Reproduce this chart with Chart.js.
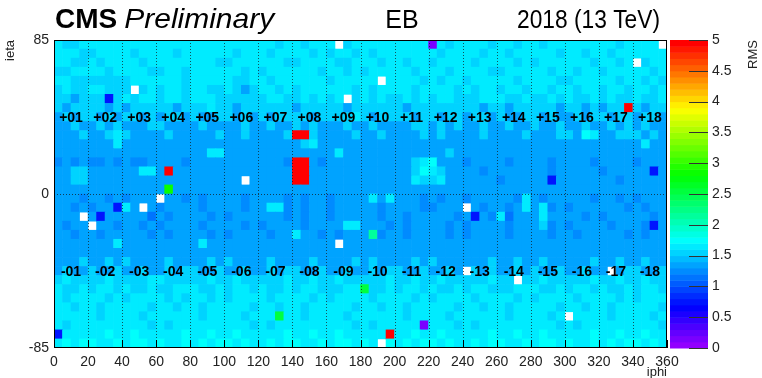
<!DOCTYPE html>
<html>
<head>
<meta charset="utf-8">
<script src="https://cdn.jsdelivr.net/npm/chart.js@4.4.0/dist/chart.umd.min.js"></script>
<style>
  html, body { margin: 0; padding: 0; background: #fff; }
  #wrap { width: 762px; height: 378px; }
</style>
</head>
<body>
<div id="wrap"><canvas id="eb-chart" width="762" height="378"></canvas></div>
<script>
// binning of the barrel map
const iphiMin = 0;
const iphiMax = 360;
const iphiStep = 5;
const ietaMin = -85;
const ietaMax = 85;
const ietaStep = 5;
const rmsMax = 5;

const xTicks = [0, 20, 40, 60, 80, 100, 120, 140, 160, 180, 200, 220, 240, 260, 280, 300, 320, 340, 360];
const yTicks = [-85, 0, 85];
const zTicks = [0, 0.5, 1, 1.5, 2, 2.5, 3, 3.5, 4, 4.5, 5];

const smPlus = ["+01", "+02", "+03", "+04", "+05", "+06", "+07", "+08", "+09", "+10", "+11", "+12", "+13", "+14", "+15", "+16", "+17", "+18"];
const smMinus = ["-01", "-02", "-03", "-04", "-05", "-06", "-07", "-08", "-09", "-10", "-11", "-12", "-13", "-14", "-15", "-16", "-17", "-18"];
const smLabelEta = [42, -43];

// one character per 5x5 cell, "0" = empty bin
const rmsLevels = { "1": 1.1, "2": 1.2, "3": 1.3, "4": 1.4, "5": 1.5, "6": 1.6, "7": 1.7, "B": 0.75, "P": 0.15, "q": 2.1, "g": 2.55, "G": 2.85, "R": 5.0 };

// rows from ieta 85 (top) down to -85, 4 cells per supermodule
const rmsRows = [
  "6556 6666 6666 6666 6666 6666 6656 6566 6056 6666 6666 P656 6665 6656 6566 6666 6656 6660",
  "6665 5666 6566 6656 6666 6566 6566 6656 5665 6566 6666 6566 6656 6566 6665 6656 6566 6666",
  "6655 6566 6656 6666 6665 5666 6665 5666 6556 6656 6566 5666 6566 6656 5666 6665 6656 0566",
  "5566 6656 6665 5665 6666 6656 5666 6665 6656 5666 6656 6656 6665 5666 6656 6566 5666 6656",
  "6655 5555 5666 6665 6666 6556 6566 6666 5666 6606 6665 6566 5666 6656 6665 5666 6656 6565",
  "5655 6655 5056 5665 6655 6545 6656 5666 6665 6566 6656 6665 6566 5665 6656 6566 5665 6656",
  "5545 55B5 6566 5665 6665 5555 5665 5656 5605 6565 5656 5665 5566 6556 5565 6556 5655 6556",
  "5455 5545 4555 5545 5565 5455 5555 4555 5545 5555 5455 5555 5545 5455 5554 5545 455R 5455",
  "4545 5454 5545 4554 5445 5454 5455 5545 5556 5455 5545 5455 4554 5445 5454 4545 5455 4554",
  "4454 4545 4445 5444 4544 4454 4544 5454 4454 4544 4455 4545 4454 4544 5445 4454 4545 4544",
  "4435 4356 5443 4534 3445 4354 4435 RR54 4435 4354 3445 4543 4354 3445 4435 5476 4355 5453",
  "3443 4336 4434 3443 4344 3434 4343 4564 3443 4334 4343 3434 4343 3443 4334 4343 3443 4634",
  "3434 3343 4334 3433 4366 3434 3343 4334 3633 4343 3434 3453 3434 4343 3343 4334 3434 4343",
  "2323 2232 3223 3332 3433 3343 3432 RR32 3343 3433 3456 7343 2433 3243 3424 3342 3433 2343",
  "3355 3434 3466 3R34 4343 3433 3434 RR43 3343 4334 3457 6543 3424 3343 4324 3433 2343 43B3",
  "3455 3343 4334 3433 3343 3403 4343 RR34 3343 3433 3465 5634 3343 2433 34B3 3343 4324 3343",
  "3343 4334 3433 3G34 3433 4343 3343 3433 4334 3343 3433 4343 3343 4334 3343 3433 4334 3433",
  "3332 3323 2333 0332 3233 3323 3332 3233 2333 3636 3332 3233 2333 3326 3233 3332 3323 2333",
  "3323 233B 6303 2333 3233 3323 3662 3233 2333 3323 3332 2333 0323 3236 3623 2333 3332 3233",
  "3330 3B33 3331 3233 3323 2333 3332 3233 2333 3323 3233 3332 3B32 6133 3633 3323 2333 3323",
  "3233 0332 3323 2333 3233 3323 2333 3233 3366 3332 3233 3323 2333 3233 3523 2333 3233 32B3",
  "3323 3233 3332 3233 3323 2333 3233 6332 3233 3q23 3233 3323 2333 3233 3323 3233 3332 3233",
  "3334 3346 4333 3433 3643 4333 3433 3343 3033 4333 3433 3343 4333 3343 3433 4333 3343 3433",
  "4344 3443 4434 4344 3443 4434 4344 3443 4434 4344 3443 4434 4344 3443 4434 4344 3443 4434",
  "4445 4454 5444 4544 4454 5444 4544 4454 4445 4544 4454 5444 4445 4454 4544 4445 4454 4544",
  "4544 5445 4454 4545 5445 4454 4545 5445 4454 4545 5445 4454 0545 4454 5445 4454 4045 5445",
  "5655 5565 5556 6555 5565 5655 5556 5565 5655 5556 5565 5655 5556 5505 5655 5556 5565 5655",
  "6556 5665 6556 5566 6556 5665 6556 5665 5566 g556 5665 6556 5665 5566 6556 5665 6556 5665",
  "6566 6656 5666 6565 6656 5666 6566 6656 5666 6566 6656 5666 6566 6656 5666 6566 6656 5666",
  "6656 6566 6665 6656 6566 6665 6656 6566 6665 6656 6566 6665 6656 6566 6665 6656 6566 6665",
  "6666 6566 6656 6666 6566 6656 66g6 6566 6656 6666 6566 6656 6666 6566 6656 0666 6566 6656",
  "6566 6666 6665 6566 6666 6665 6566 6666 6665 6566 666P 6665 6566 6666 6665 6566 6666 6665",
  "B666 6676 6766 6667 6676 6766 6667 6676 6766 666R 6676 6766 6667 6676 6766 6667 6676 6766",
  "6767 7667 6776 7667 6767 7676 6767 7667 6776 7607 6767 7676 6767 7667 6776 7667 6767 7676"
];

// ROOT "pretty" palette: 50 colours, hue 280 -> 0
const rmsColor = (v) => {
  let i = Math.floor((v / rmsMax) * 50);
  i = Math.max(0, Math.min(49, i));
  return "hsl(" + (280 - (i + 1) * 5.6) + ", 100%, 50%)";
};

const cells = [];
rmsRows.forEach((row, r) => {
  const chars = row.replace(/ /g, "");
  const top = ietaMax - r * ietaStep;
  for (let j = 0; j < chars.length; j++) {
    const v = rmsLevels[chars[j]];
    if (!v) continue; // empty bin stays white
    cells.push({ x: iphiMin + (j + 0.5) * iphiStep, y: [top - ietaStep, top], v: v });
  }
});

const FONT = "'Liberation Sans', Arial, Helvetica, sans-serif";

// draw text squeezed/stretched to a given width
const fitText = (ctx, txt, x, y, width) => {
  const m = ctx.measureText(txt).width;
  ctx.save();
  ctx.translate(x, y);
  ctx.scale(width / m, 1);
  ctx.fillText(txt, 0, 0);
  ctx.restore();
};

const ebDecor = {
  id: "ebDecor",
  afterDatasetsDraw(chart) {
    const { ctx, chartArea: a, scales } = chart;
    const sx = scales.x, sy = scales.y, sz = scales.z;
    ctx.save();

    // supermodule boundaries and ieta = 0
    ctx.strokeStyle = "rgba(20,20,20,0.7)";
    ctx.lineWidth = 1;
    ctx.setLineDash([1, 2]);
    for (let p = iphiMin + 20; p < iphiMax; p += 20) {
      const x = Math.round(sx.getPixelForValue(p)) + 0.5;
      ctx.beginPath(); ctx.moveTo(x, a.top); ctx.lineTo(x, a.bottom); ctx.stroke();
    }
    const y0 = Math.round(sy.getPixelForValue(0)) + 0.5;
    ctx.beginPath(); ctx.moveTo(a.left, y0); ctx.lineTo(a.right, y0); ctx.stroke();
    ctx.setLineDash([]);

    // frame + ticks on the iphi axis
    ctx.strokeStyle = "#000";
    ctx.strokeRect(a.left + 0.5, a.top + 0.5, a.right - a.left - 1, a.bottom - a.top - 1);
    xTicks.forEach(t => {
      const x = Math.round(sx.getPixelForValue(t)) + 0.5;
      ctx.beginPath(); ctx.moveTo(x, a.bottom); ctx.lineTo(x, a.bottom - 8); ctx.stroke();
    });

    // supermodule names
    ctx.fillStyle = "#000";
    ctx.font = "bold 14px " + FONT;
    ctx.textAlign = "center";
    ctx.textBaseline = "middle";
    smPlus.forEach((s, k) => {
      ctx.fillText(s, sx.getPixelForValue(10 + 20 * k), sy.getPixelForValue(smLabelEta[0]));
    });
    smMinus.forEach((s, k) => {
      ctx.fillText(s, sx.getPixelForValue(10 + 20 * k), sy.getPixelForValue(smLabelEta[1]));
    });

    // colour bar
    const bx = a.right + 3, bw = 38;
    for (let i = 0; i < 50; i++) {
      const lo = (i / 50) * rmsMax, hi = ((i + 1) / 50) * rmsMax;
      const yt = sz.getPixelForValue(hi), yb = sz.getPixelForValue(lo);
      ctx.fillStyle = rmsColor((lo + hi) / 2);
      ctx.fillRect(bx, yt, bw, yb - yt + 0.5);
    }
    ctx.strokeStyle = "#333";
    zTicks.forEach(t => {
      const y = Math.round(sz.getPixelForValue(t)) + 0.5;
      ctx.beginPath(); ctx.moveTo(bx + bw - 19, y); ctx.lineTo(bx + bw, y); ctx.stroke();
    });

    // titles
    ctx.fillStyle = "#000";
    ctx.textBaseline = "alphabetic";
    ctx.textAlign = "left";
    ctx.font = "bold 28px " + FONT;
    ctx.fillText("CMS", a.left + 1, 28);
    const w = ctx.measureText("CMS").width + 7;
    ctx.font = "italic 28px " + FONT;
    fitText(ctx, "Preliminary", a.left + 1 + w, 28, 150);
    ctx.font = "25px " + FONT;
    ctx.textAlign = "center";
    ctx.fillText("EB", 402, 28);
    ctx.textAlign = "left";
    fitText(ctx, "2018 (13 TeV)", 517, 28, 143);

    ctx.font = "13px " + FONT;
    ctx.fillStyle = "#222";
    ctx.textAlign = "right";
    ctx.fillText("iphi", a.right, 376);
    ctx.save();
    ctx.translate(14, a.top);
    ctx.rotate(-Math.PI / 2);
    ctx.fillText("ieta", 0, 0);
    ctx.restore();
    ctx.save();
    ctx.translate(757, a.top);
    ctx.rotate(-Math.PI / 2);
    ctx.fillText("RMS", 0, 0);
    ctx.restore();

    ctx.restore();
  }
};

new Chart(document.getElementById("eb-chart"), {
  type: "bar",
  data: {
    datasets: [{
      data: cells,
      backgroundColor: c => (c.raw ? rmsColor(c.raw.v) : "transparent"),
      borderWidth: 0,
      barPercentage: 1,
      categoryPercentage: 1
    }]
  },
  options: {
    responsive: false,
    animation: false,
    layout: { padding: { top: 40 } },
    plugins: { legend: { display: false }, tooltip: { enabled: false } },
    scales: {
      x: {
        type: "linear", min: iphiMin, max: iphiMax, offset: false,
        grid: { display: false, drawTicks: false }, border: { display: false },
        afterBuildTicks: s => { s.ticks = xTicks.map(v => ({ value: v })); },
        ticks: { autoSkip: false, maxRotation: 0, padding: 6, color: "#222", font: { family: FONT, size: 14 } },
        afterFit: s => { s.height = 30; s.paddingLeft = 0; s.paddingRight = 0; }
      },
      y: {
        type: "linear", min: ietaMin, max: ietaMax,
        grid: { display: false, drawTicks: false }, border: { display: false },
        afterBuildTicks: s => { s.ticks = yTicks.map(v => ({ value: v })); },
        ticks: { padding: 5, color: "#222", font: { family: FONT, size: 14 } },
        afterFit: s => { s.width = 54; s.paddingTop = 0; s.paddingBottom = 0; }
      },
      z: {
        type: "linear", position: "right", min: 0, max: rmsMax,
        grid: { display: false, drawTicks: false }, border: { display: false },
        afterBuildTicks: s => { s.ticks = zTicks.map(v => ({ value: v })); },
        ticks: { padding: 45, color: "#222", font: { family: FONT, size: 14 }, callback: v => String(v) },
        afterFit: s => { s.width = 95; s.paddingTop = 0; s.paddingBottom = 0; }
      }
    }
  },
  plugins: [ebDecor]
});
</script>
</body>
</html>
